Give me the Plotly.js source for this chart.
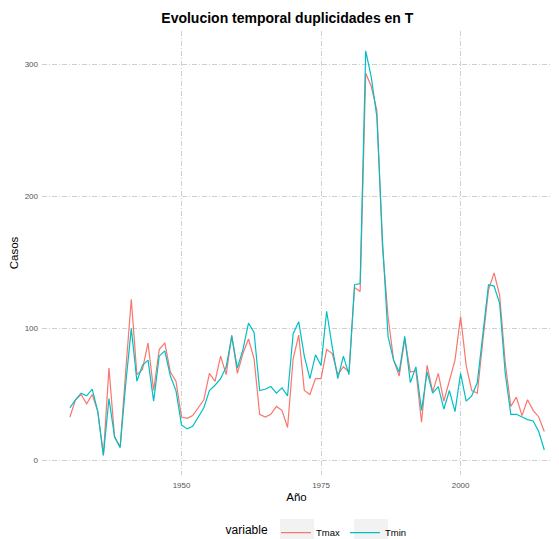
<!DOCTYPE html>
<html>
<head>
<meta charset="utf-8">
<script src="https://cdn.plot.ly/plotly-3.0.1.min.js"></script>
<style>html,body{margin:0;padding:0;background:#fff;}</style>
</head>
<body>
<div id="chart" style="width:559px;height:539px;"></div>
<script>
const startYear = 1930;
const endYear = 2015;
const years = [];
for (let y = startYear; y <= endYear; y++) years.push(y);

const tmax = [33, 46, 50, 43, 50, 37, 4, 70, 18, 10, 68, 122, 65, 69, 89, 53, 84, 89, 67, 60,
  33, 32, 34, 40, 46, 66, 60, 79, 65, 95, 66, 81, 92, 77, 35, 33, 35, 41, 38, 25,
  77, 95, 53, 50, 62, 62, 84, 81, 65, 71, 67, 131, 128, 293, 283, 265, 162, 109, 76, 64,
  92, 67, 68, 29, 72, 52, 66, 45, 61, 76, 109, 72, 53, 51, 91, 129, 142, 125, 74, 41,
  48, 34, 46, 38, 33, 22];
const tmin = [40, 46, 51, 49, 54, 37, 4, 47, 18, 10, 58, 100, 60, 72, 76, 45, 79, 83, 64, 53,
  27, 24, 26, 33, 40, 53, 57, 62, 71, 94, 70, 84, 104, 97, 53, 54, 56, 51, 55, 49,
  96, 105, 79, 62, 80, 72, 113, 86, 62, 79, 65, 133, 134, 310, 290, 260, 167, 94, 76, 67,
  94, 59, 71, 38, 67, 51, 56, 39, 53, 37, 66, 45, 49, 59, 94, 133, 132, 119, 66, 35,
  35, 33, 31, 30, 22, 8];

const traces = [
  {x: years, y: tmax, type: 'scatter', mode: 'lines', name: 'Tmax',
   line: {color: '#F8766D', width: 1.2}},
  {x: years, y: tmin, type: 'scatter', mode: 'lines', name: 'Tmin',
   line: {color: '#00BFC4', width: 1.2}}
];

const font = 'Liberation Sans, Arial, sans-serif';
const grid = '#cfcfcf';
const gdash = '5px,2px,1px,2px';
const keyBox = {type: 'rect', xref: 'paper', yref: 'paper', layer: 'below',
  fillcolor: '#f2f2f2', line: {width: 0}, y0: -0.0991, y1: -0.17};
const layout = {
  width: 559, height: 539,
  margin: {l: 42, r: 8, t: 31, b: 64, autoexpand: false},
  paper_bgcolor: '#ffffff', plot_bgcolor: '#ffffff',
  font: {family: font, color: '#000'},
  title: {text: '<b>Evolucion temporal duplicidades en T</b>', font: {family: font, size: 14, color: '#000'},
          x: 0.514, xanchor: 'center', y: 0.967, yanchor: 'middle'},
  xaxis: {
    range: [1925, 2016.2], tickvals: [1950, 1975, 2000], ticktext: ['1950', '1975', '2000'],
    showgrid: true, gridcolor: grid, griddash: gdash, gridwidth: 1,
    zeroline: false, showline: false, ticks: '', ticklabelstandoff: 4,
    tickfont: {family: font, size: 8, color: '#555'},
    title: {text: 'Año', font: {family: font, size: 11.5, color: '#000'}, standoff: 3}
  },
  yaxis: {
    range: [-10.9, 325], tickvals: [0, 100, 200, 300], ticktext: ['0', '100', '200', '300'],
    showgrid: true, gridcolor: grid, griddash: gdash, gridwidth: 1,
    zeroline: false, showline: false, ticks: '', ticklabelstandoff: 3,
    tickfont: {family: font, size: 8, color: '#555'},
    title: {text: 'Casos', font: {family: font, size: 11.5, color: '#000'}, standoff: 3}
  },
  shapes: [
    Object.assign({}, keyBox, {x0: 0.4676, x1: 0.5344}),
    Object.assign({}, keyBox, {x0: 0.6130, x1: 0.6798})
  ],
  showlegend: true,
  legend: {
    orientation: 'h', xref: 'container', yref: 'container',
    x: 0.4, xanchor: 'left', y: 0.012, yanchor: 'middle',
    title: {text: 'variable', side: 'left', font: {family: font, size: 12, color: '#000'}},
    font: {family: font, size: 9.5, color: '#000'},
    itemwidth: 30, bgcolor: 'rgba(0,0,0,0)'
  }
};

Plotly.newPlot('chart', traces, layout, {displayModeBar: false, staticPlot: true});
</script>
</body>
</html>
